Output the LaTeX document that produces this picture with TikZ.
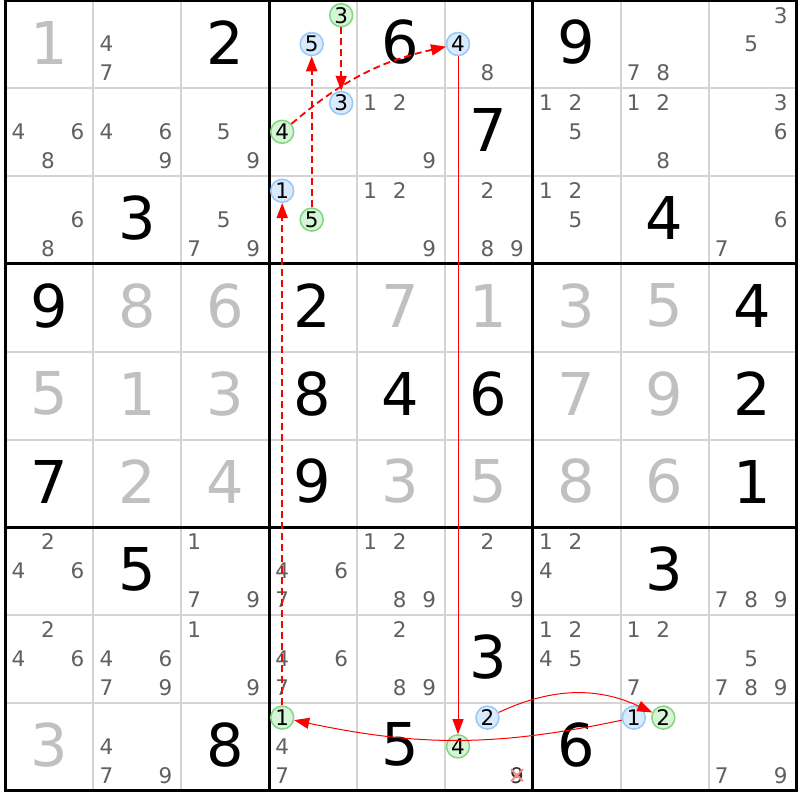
\documentclass[tikz,border=0pt]{standalone}
\usepackage{fontspec}
\setmainfont{DejaVu Sans}
\usetikzlibrary{arrows.meta}
\definecolor{gridthin}{RGB}{212,212,212}
\definecolor{givengray}{RGB}{192,192,192}
\definecolor{candgray}{RGB}{96,96,96}
\definecolor{bluefill}{RGB}{216,234,252}
\definecolor{bluedraw}{RGB}{150,200,248}
\definecolor{greenfill}{RGB}{214,244,214}
\definecolor{greendraw}{RGB}{130,214,130}
\definecolor{linkred}{RGB}{255,0,0}
\definecolor{xred}{RGB}{245,140,140}
\tikzset{
  bigdigit/.style={inner sep=0pt, font=\fontsize{59}{59}\selectfont},
  givendigit/.style={bigdigit, text=givengray},
  placeddigit/.style={bigdigit, text=black},
  candtext/.style={inner sep=0pt, text=candgray, font=\fontsize{21.5}{21.5}\selectfont},
  candcirc/.style={circle, minimum size=23pt, inner sep=0pt, line width=1.5pt, text=black, font=\fontsize{21.5}{21.5}\selectfont},
  bluecand/.style={candcirc, draw=bluedraw, fill=bluefill},
  greencand/.style={candcirc, draw=greendraw, fill=greenfill},
  strongarrow/.style={draw=linkred, line width=1pt, -{Triangle[length=15pt,width=11pt]}},
  weakarrow/.style={draw=linkred, line width=1.8pt, dash pattern=on 7pt off 4pt, -{Triangle[length=15pt,width=11pt]}},
  thinline/.style={draw=gridthin, line width=2pt},
  thickline/.style={draw=black, line width=3pt, line cap=rect},
  xmark/.style={draw=xred, line width=2pt},
}
\newcommand\bigdig[4]{%
  \pgfmathsetmacro\bdx{5.5+87.9*#2+43.5}%
  \pgfmathsetmacro\bdy{0.5+87.8*#1+42}%
  \node[#4] (g#1#2) at (\bdx,\bdy) {#3};}
\newcommand\cand[4][candtext]{%
  \pgfmathsetmacro\cdx{5.5+87.9*#3+13+29.5*mod(#4-1,3)}%
  \pgfmathsetmacro\cdy{0.5+87.8*#2+14.7+28.8*int((#4-1)/3)}%
  \node[#1] (k#2#3#4) at (\cdx,\cdy) {#4};}
\newcommand\cands[3]{\foreach \dd in {#3}{\cand{#1}{#2}{\dd}}}
\begin{document}
\begin{tikzpicture}[x=1pt,y=-1pt]
\useasboundingbox (0,0) rectangle (800,800);
\fill[white] (0,0) rectangle (800,800);
% thin grid lines
\foreach \i in {1,2,4,5,7,8}{
  \pgfmathsetmacro\gx{5.5+87.9*\i}
  \pgfmathsetmacro\gy{0.5+87.8*\i}
  \draw[thinline] (\gx,0.5) -- (\gx,790.7);
  \draw[thinline] (5.5,\gy) -- (796.6,\gy);
}
% thick grid lines
\foreach \i in {0,3,6,9}{
  \pgfmathsetmacro\gx{5.5+87.9*\i}
  \pgfmathsetmacro\gy{0.5+87.8*\i}
  \draw[thickline] (\gx,0.5) -- (\gx,790.7);
  \draw[thickline] (5.5,\gy) -- (796.6,\gy);
}
% big digits
\bigdig{0}{0}{1}{givendigit}
\bigdig{0}{2}{2}{placeddigit}
\bigdig{0}{4}{6}{placeddigit}
\bigdig{0}{6}{9}{placeddigit}
\bigdig{1}{5}{7}{placeddigit}
\bigdig{2}{1}{3}{placeddigit}
\bigdig{2}{7}{4}{placeddigit}
\foreach \c/\d/\s in {0/9/placeddigit,1/8/givendigit,2/6/givendigit,3/2/placeddigit,4/7/givendigit,5/1/givendigit,6/3/givendigit,7/5/givendigit,8/4/placeddigit}{\bigdig{3}{\c}{\d}{\s}}
\foreach \c/\d/\s in {0/5/givendigit,1/1/givendigit,2/3/givendigit,3/8/placeddigit,4/4/placeddigit,5/6/placeddigit,6/7/givendigit,7/9/givendigit,8/2/placeddigit}{\bigdig{4}{\c}{\d}{\s}}
\foreach \c/\d/\s in {0/7/placeddigit,1/2/givendigit,2/4/givendigit,3/9/placeddigit,4/3/givendigit,5/5/givendigit,6/8/givendigit,7/6/givendigit,8/1/placeddigit}{\bigdig{5}{\c}{\d}{\s}}
\bigdig{6}{1}{5}{placeddigit}
\bigdig{6}{7}{3}{placeddigit}
\bigdig{7}{5}{3}{placeddigit}
\bigdig{8}{0}{3}{givendigit}
\bigdig{8}{2}{8}{placeddigit}
\bigdig{8}{4}{5}{placeddigit}
\bigdig{8}{6}{6}{placeddigit}
% candidates
\cands{0}{1}{4,7}
\cand[greencand]{0}{3}{3}
\cand[bluecand]{0}{3}{5}
\cand[bluecand]{0}{5}{4}
\cands{0}{5}{8}
\cands{0}{7}{7,8}
\cands{0}{8}{3,5}
\cands{1}{0}{4,6,8}
\cands{1}{1}{4,6,9}
\cands{1}{2}{5,9}
\cand[bluecand]{1}{3}{3}
\cand[greencand]{1}{3}{4}
\cands{1}{4}{1,2,9}
\cands{1}{6}{1,2,5}
\cands{1}{7}{1,2,8}
\cands{1}{8}{3,6}
\cands{2}{0}{6,8}
\cands{2}{2}{5,7,9}
\cand[bluecand]{2}{3}{1}
\cand[greencand]{2}{3}{5}
\cands{2}{4}{1,2,9}
\cands{2}{5}{2,8,9}
\cands{2}{6}{1,2,5}
\cands{2}{8}{6,7}
\cands{6}{0}{2,4,6}
\cands{6}{2}{1,7,9}
\cands{6}{3}{4,6,7}
\cands{6}{4}{1,2,8,9}
\cands{6}{5}{2,9}
\cands{6}{6}{1,2,4}
\cands{6}{8}{7,8,9}
\cands{7}{0}{2,4,6}
\cands{7}{1}{4,6,7,9}
\cands{7}{2}{1,9}
\cands{7}{3}{4,6,7}
\cands{7}{4}{2,8,9}
\cands{7}{6}{1,2,4,5}
\cands{7}{7}{1,2,7}
\cands{7}{8}{5,7,8,9}
\cands{8}{1}{4,7,9}
\cand[greencand]{8}{3}{1}
\cands{8}{3}{4,7}
\cand[bluecand]{8}{5}{2}
\cand[greencand]{8}{5}{4}
\cand[candtext, text=black!80]{8}{5}{9}
\cand[bluecand]{8}{7}{1}
\cand[greencand]{8}{7}{2}
\cands{8}{8}{7,9}
% eliminated candidate mark
\draw[xmark] ([shift={(-6,-6)}]k859.center) -- ([shift={(6,6)}]k859.center);
\draw[xmark] ([shift={(-6,6)}]k859.center) -- ([shift={(6,-6)}]k859.center);
% links
\draw[weakarrow] (k033) -- (k133);
\draw[weakarrow] (k134) to[bend left=14] (k054);
\draw[weakarrow] (k235) -- (k035);
\draw[weakarrow] (k831) -- (k231);
\draw[strongarrow] (k054) -- (k854);
\draw[strongarrow] (k871) to[bend left=12] (k831);
\draw[strongarrow] (k852) to[bend left=25] (k872);
\end{tikzpicture}
\end{document}
